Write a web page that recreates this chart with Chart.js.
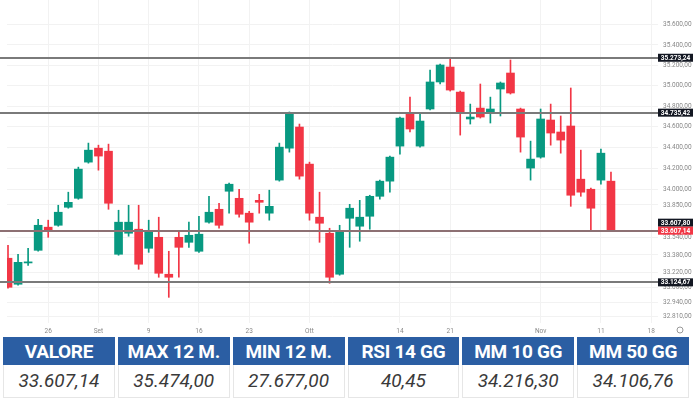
<!DOCTYPE html>
<html>
<head>
<meta charset="utf-8">
<script src="https://cdn.jsdelivr.net/npm/chart.js@4.4.1/dist/chart.umd.min.js"></script>
<style>
  body { margin: 0; background: #fff; width: 700px; height: 400px; overflow: hidden; font-family: Roboto, sans-serif; }
  #wrap { position: relative; width: 700px; height: 337px; }
  #tbl { position: absolute; left: 3px; top: 337px; width: 686px; display: grid; grid-template-columns: repeat(6, 1fr); column-gap: 3px; }
  .h { background: #2b5ea3; color: #fff; font-weight: 700; font-size: 19px; height: 28px; line-height: 29px; text-align: center; letter-spacing: -0.3px; }
  .v { height: 32px; line-height: 32px; text-align: center; font-style: italic; font-size: 19px; color: #3a3a3a; border: 1px solid #e6e6e6; border-top: none; }
</style>
</head>
<body>
<div id="wrap"><canvas id="myChart" width="700" height="337"></canvas></div>
<div id="tbl"></div>
<script>
// sedute giornaliere 20 ago -> 12 nov
const open = [33349,33107,33305,33423,33640,33658,33828,33913,34258,34392,
  34363,33386,33583,33621,33442,33545,33200,33545,33498,33414,
  33687,33809,33980,33913,33772,33894,33772,34086,34392,34596,
  34239,33734,33583,33200,33724,33649,33743,33932,34076,34412,
  34732,34412,34771,35035,35182,34936,34674,34780,34732,34966,
  35123,34771,34201,34306,34664,34548,34606,34095,33999,34086,34076];
const high = [33470,33386,33442,33715,33706,33847,33971,34210,34441,34421,
  34431,33800,33847,33847,33706,33734,33414,33602,33687,33743,
  33932,33866,34057,33999,33790,33951,33990,34441,34742,34625,
  34258,33971,33630,33658,33856,33894,33942,34086,34316,34693,
  34887,34722,35153,35212,35270,34946,34819,35015,34887,35035,
  35251,34780,34460,34771,34819,34703,34976,34373,34009,34383,34162];
const low = [33070,33098,33283,33414,33545,33649,33819,33904,34248,34181,
  33809,33377,33555,33246,33404,33172,32986,33172,33451,33404,
  33677,33630,33772,33734,33489,33772,33706,34076,34354,34095,
  33706,33498,33116,33191,33451,33508,33621,33904,33971,34335,
  34548,34402,34761,35015,34946,34518,34625,34683,34635,34703,
  34917,34354,34086,34296,34421,34344,33837,33932,33602,34047,33607.14];
const close = [33079,33311,33315,33658,33602,33781,33875,34191,34373,34316,
  33866,33687,33687,33293,33593,33209,33172,33451,33564,33574,
  33781,33658,34047,33762,33687,33875,33837,34402,34732,34124,
  33772,33677,33172,33593,33819,33734,33932,34076,34306,34683,
  34577,34654,35035,35202,34956,34732,34693,34693,34771,35025,
  34927,34499,34287,34674,34538,34470,33942,33971,33819,34344,33607.14];

const xTickPos = [4, 9, 14, 19, 24, 30, 39, 44, 53, 59, 64];
const xTickText = ['26', 'Set', '9', '16', '23', 'Ott', '14', '21', 'Nov', '11', '18'];
const yTicks = [35600, 35400, 35200, 35000, 34800, 34600, 34400, 34200, 34000, 33850, 33540, 33380, 33220, 33080, 32940, 32810];
const levels = [35273.24, 34735.42, 33607.80, 33124.67];

const tableHeaders = ['VALORE', 'MAX 12 M.', 'MIN 12 M.', 'RSI 14 GG', 'MM 10 GG', 'MM 50 GG'];
const tableValues = ['33.607,14', '35.474,00', '27.677,00', '40,45', '34.216,30', '34.106,76'];

const UP = '#089981';
const DOWN = '#f23645';

// formato italiano 35.600,00
const fmt = (v) => {
  let parts = v.toFixed(2).split('.');
  return parts[0].replace(/\B(?=(\d{3})+(?!\d))/g, '.') + ',' + parts[1];
};

let tbl = document.getElementById('tbl');
tableHeaders.forEach(t => { let d = document.createElement('div'); d.className = 'h'; d.textContent = t; tbl.appendChild(d); });
tableValues.forEach(t => { let d = document.createElement('div'); d.className = 'v'; d.textContent = t; tbl.appendChild(d); });

const colors = open.map((o, i) => close[i] >= o ? UP : DOWN);
const bodies = open.map((o, i) => ({ x: i, y: [o, close[i]] }));
const wicks = open.map((o, i) => ({ x: i, y: [low[i], high[i]] }));

const drawBox = (ctx, x, y, txt, bg) => {
  ctx.fillStyle = bg;
  ctx.fillRect(x, y - 4, 35, 8);
  ctx.fillStyle = '#fff';
  ctx.font = 'bold 6.5px Roboto';
  ctx.textAlign = 'center';
  ctx.textBaseline = 'middle';
  ctx.fillText(txt, x + 17.5, y + 0.5);
};

const levelsPlugin = {
  id: 'levels',
  afterDatasetsDraw(chart) {
    const { ctx, chartArea: a, scales: { y } } = chart;
    const last = close[close.length - 1];
    const lastY = y.getPixelForValue(last);
    ctx.save();
    levels.forEach(v => {
      const py = Math.round(y.getPixelForValue(v));
      ctx.strokeStyle = Math.abs(v - last) < 5 ? '#8d7073' : '#7a7a7a';
      ctx.lineWidth = 2;
      ctx.beginPath();
      ctx.moveTo(a.left - 7, py);
      ctx.lineTo(a.right, py);
      ctx.stroke();
    });
    levels.forEach(v => {
      let py = y.getPixelForValue(v);
      if (Math.abs(py - lastY) < 8) py = lastY - 8;
      drawBox(ctx, a.right, py, fmt(v), '#131722');
    });
    drawBox(ctx, a.right, lastY, fmt(last), DOWN);
    // icona impostazioni
    ctx.strokeStyle = '#999';
    ctx.lineWidth = 1;
    ctx.beginPath();
    ctx.arc(a.right + 22, a.bottom + 7, 3, 0, Math.PI * 2);
    ctx.stroke();
    ctx.restore();
  }
};

const noPad = (s) => { s.paddingTop = 0; s.paddingBottom = 0; s.paddingLeft = 0; s.paddingRight = 0; };

const ctx = document.getElementById('myChart');
new Chart(ctx, {
  type: 'bar',
  data: {
    datasets: [
      { data: bodies, backgroundColor: colors, barThickness: 8, grouped: false, minBarLength: 1 },
      { data: wicks, backgroundColor: colors, barThickness: 1, grouped: false }
    ]
  },
  options: {
    responsive: false,
    animation: false,
    layout: { padding: { left: 7, top: 0, bottom: 0, right: 0 } },
    plugins: { legend: { display: false }, tooltip: { enabled: false } },
    scales: {
      x: {
        type: 'linear',
        min: -0.1,
        max: 64.68,
        offset: false,
        afterBuildTicks: (s) => { s.ticks = xTickPos.map(v => ({ value: v })); },
        afterFit: (s) => { s.height = 14; noPad(s); },
        ticks: {
          callback: (v) => xTickText[xTickPos.indexOf(v)],
          font: { size: 6.5, family: 'Roboto' },
          color: '#888',
          padding: 4,
          maxRotation: 0,
          autoSkip: false
        },
        grid: { color: '#f2f2f2', drawTicks: false, offset: false },
        border: { display: false }
      },
      y: {
        type: 'logarithmic',
        position: 'right',
        min: 32750,
        max: 35848,
        afterBuildTicks: (s) => { s.ticks = yTicks.map(v => ({ value: v })); },
        afterFit: (s) => { s.width = 42; noPad(s); },
        ticks: {
          callback: (v) => fmt(v),
          font: { size: 6.5, family: 'Roboto' },
          color: '#888',
          padding: 5
        },
        grid: { color: '#f2f2f2', drawTicks: false },
        border: { display: false }
      }
    }
  },
  plugins: [levelsPlugin]
});
</script>
</body>
</html>
